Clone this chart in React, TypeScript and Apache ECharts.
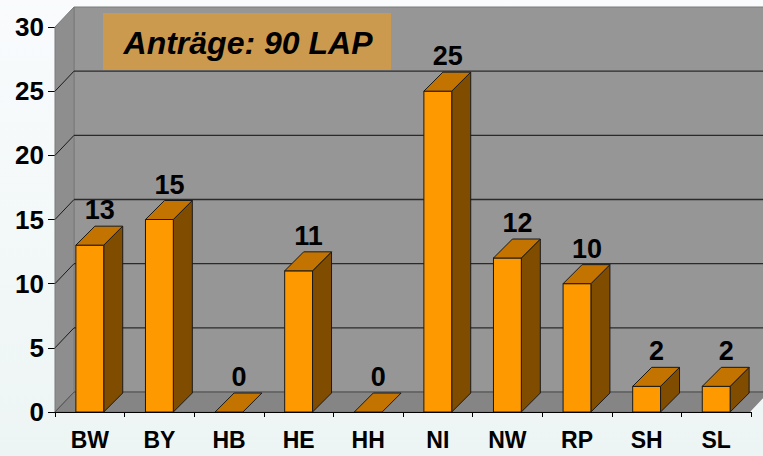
import React, { useEffect, useRef } from "react";
import * as echarts from "echarts";

const categories = ["BW", "BY", "HB", "HE", "HH", "NI", "NW", "RP", "SH", "SL"];
const values = [13, 15, 0, 11, 0, 25, 12, 10, 2, 2];
const yTicks = [0, 5, 10, 15, 20, 25, 30];
const title = "Anträge: 90 LAP";

const FONT = "Arial, 'Liberation Sans', sans-serif";
const DX = 19;
const DY = -20;
const BDX = 19;
const BDY = -19;

export default function App() {
  const ref = useRef<HTMLDivElement>(null);

  useEffect(() => {
    if (!ref.current) return;
    const chart = echarts.init(ref.current, null, { renderer: "svg" });

    const wallRender = (params: any, api: any) => {
      const cs = params.coordSys;
      const L = cs.x;
      const T = cs.y;
      const R = cs.x + cs.width;
      const B = cs.y + cs.height;
      const children: any[] = [];
      children.push({
        type: "rect",
        shape: { x: L + DX, y: T + DY, width: R - L + 40, height: B - T },
        style: { fill: "#969696", stroke: "#7a7a7a", lineWidth: 1 },
      });
      children.push({
        type: "polygon",
        shape: { points: [[L, B], [L, T], [L + DX, T + DY], [L + DX, B + DY]] },
        style: { fill: "#8e8e8e", stroke: "#7a7a7a", lineWidth: 1 },
      });
      children.push({
        type: "polygon",
        shape: { points: [[L, B], [L + DX, B + DY], [R + DX, B + DY], [R, B]] },
        style: { fill: "#858585", stroke: "#707070", lineWidth: 1 },
      });
      yTicks.forEach((v) => {
        if (v === 0 || v === 30) return;
        const y = api.coord([0, v])[1];
        children.push({
          type: "line",
          shape: { x1: L + DX, y1: y + DY, x2: R + DX + 40, y2: y + DY },
          style: { stroke: "#2a2a2a", lineWidth: 1.3 },
        });
        children.push({
          type: "line",
          shape: { x1: L, y1: y, x2: L + DX, y2: y + DY },
          style: { stroke: "#1a1a1a", lineWidth: 1 },
        });
      });
      children.push({
        type: "line",
        shape: { x1: L + DX, y1: B + DY, x2: R + DX + 40, y2: B + DY },
        style: { stroke: "#555", lineWidth: 1 },
      });
      children.push({
        type: "line",
        shape: { x1: L, y1: B, x2: L + DX, y2: B + DY },
        style: { stroke: "#555", lineWidth: 1 },
      });
      children.push({
        type: "line",
        shape: { x1: R, y1: B, x2: R + DX, y2: B + DY },
        style: { stroke: "#f4f8f8", lineWidth: 1.5 },
      });
      return { type: "group", children };
    };

    const barRender = (params: any, api: any) => {
      const idx = api.value(0);
      const val = api.value(1);
      const top = api.coord([idx, val]);
      const base = api.coord([idx, 0]);
      const w = api.size([1, 0])[0] * 0.4;
      const x0 = top[0] - w / 2;
      const x1 = top[0] + w / 2;
      const yT = top[1];
      const yB = base[1];
      const stroke = { stroke: "#1a1a1a", lineWidth: 1 };
      const children: any[] = [];
      if (yB - yT > 0.5) {
        children.push({
          type: "polygon",
          shape: { points: [[x1, yB], [x1, yT], [x1 + BDX, yT + BDY], [x1 + BDX, yB + BDY]] },
          style: { fill: "#7f4c00", ...stroke },
        });
        children.push({
          type: "rect",
          shape: { x: x0, y: yT, width: w, height: yB - yT },
          style: { fill: "#ff9900", ...stroke },
        });
      }
      children.push({
        type: "polygon",
        shape: { points: [[x0, yT], [x0 + BDX, yT + BDY], [x1 + BDX, yT + BDY], [x1, yT]] },
        style: { fill: "#c27300", ...stroke },
      });
      children.push({
        type: "text",
        style: {
          x: top[0] + 10,
          y: yT - 35,
          text: String(val),
          fill: "#000",
          font: `bold 27px ${FONT}`,
          align: "center",
          verticalAlign: "middle",
        },
      });
      return { type: "group", children };
    };

    chart.setOption({
      animation: false,
      backgroundColor: {
        type: "linear",
        x: 0,
        y: 0,
        x2: 0,
        y2: 1,
        colorStops: [
          { offset: 0, color: "#f9fbfd" },
          { offset: 1, color: "#edf5f4" },
        ],
      },
      grid: { left: 55, right: 12, top: 27, bottom: 44, containLabel: false },
      xAxis: {
        type: "category",
        data: categories,
        axisLine: { show: true, lineStyle: { color: "#000", width: 1.2 } },
        axisTick: { show: true, length: 5, lineStyle: { color: "#000" } },
        axisLabel: {
          color: "#000",
          fontSize: 23,
          fontWeight: "bold",
          fontFamily: FONT,
          margin: 16,
        },
        splitLine: { show: false },
        z: 5,
      },
      yAxis: {
        type: "value",
        min: 0,
        max: 30,
        interval: 5,
        axisLine: { show: true, lineStyle: { color: "#777", width: 1 } },
        axisTick: { show: true, length: 7, lineStyle: { color: "#000" } },
        axisLabel: {
          color: "#000",
          fontSize: 26,
          fontWeight: "bold",
          fontFamily: FONT,
          margin: 11,
        },
        splitLine: { show: false },
      },
      series: [
        {
          type: "custom",
          renderItem: wallRender,
          data: [[0, 0]],
          clip: false,
          silent: true,
          z: 1,
        },
        {
          type: "custom",
          renderItem: barRender,
          data: values.map((v, i) => [i, v]),
          clip: false,
          z: 3,
        },
      ],
      graphic: {
        elements: [
          {
            type: "rect",
            x: 103,
            y: 13,
            z: 100,
            shape: { x: 0, y: 0, width: 288, height: 57 },
            style: { fill: "#cc9a4e" },
          },
          {
            type: "text",
            x: 248,
            y: 43,
            z: 101,
            style: {
              text: title,
              fill: "#000",
              font: `italic bold 32px ${FONT}`,
              align: "center",
              verticalAlign: "middle",
            },
          },
        ],
      },
    });

    return () => chart.dispose();
  }, []);

  return (
    <div
      ref={ref}
      style={{ position: "fixed", left: 0, top: 0, width: 763, height: 456 }}
    />
  );
}
